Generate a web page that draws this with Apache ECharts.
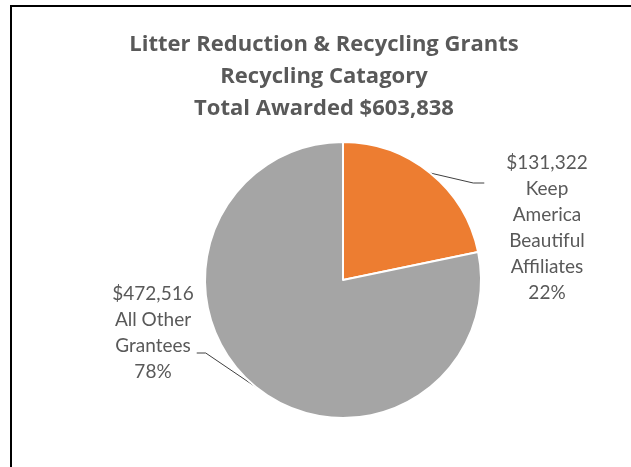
<!DOCTYPE html>
<html>
<head>
<meta charset="utf-8">
<script src="https://cdn.jsdelivr.net/npm/echarts@6/dist/echarts.min.js"></script>
<style>
  html, body { margin: 0; padding: 0; background: #fff; }
  #chart { width: 631px; height: 467px; position: absolute; left: 0; top: 0; }
  #frame { position: absolute; left: 10px; top: 5px; width: 640px; height: 480px;
           border-top: 2px solid #000; border-left: 2px solid #000; pointer-events: none; }
</style>
</head>
<body>
<div id="chart"></div>
<div id="frame"></div>
<script>
// ---- data ----
const titleLines = ['Litter Reduction & Recycling Grants', 'Recycling Catagory', 'Total Awarded $603,838'];
const categories = ['Keep\nAmerica\nBeautiful\nAffiliates', 'All Other\nGrantees'];
const values = [131322, 472516];
const colors = ['#ED7D31', '#A5A5A5'];

const chart = echarts.init(document.getElementById('chart'), null, { renderer: 'canvas' });

const FONT = 'Lato, "Open Sans", sans-serif';
const TITLE_FONT = '"Open Sans", Lato, sans-serif';
const labelPos = [
  { x: 547, y: 228, side: 'right' },
  { x: 153, y: 333, side: 'left' }
];

chart.setOption({
  backgroundColor: '#ffffff',
  animation: false,
  title: {
    text: titleLines.join('\n'),
    left: 324,
    top: 29,
    padding: 0,
    textAlign: 'center',
    textStyle: {
      fontFamily: TITLE_FONT,
      fontSize: 22,
      fontWeight: 'bold',
      color: '#595959',
      lineHeight: 32
    }
  },
  series: [{
    type: 'pie',
    center: [343, 280],
    radius: 138,
    startAngle: 90,
    clockwise: true,
    avoidLabelOverlap: false,
    data: categories.map((c, i) => ({ name: c, value: values[i], itemStyle: { color: colors[i] } })),
    itemStyle: { borderColor: '#ffffff', borderWidth: 2 },
    label: {
      show: true,
      position: 'outside',
      fontFamily: FONT,
      fontSize: 19,
      lineHeight: 26,
      color: '#595959',
      align: 'center',
      formatter: p => '$' + p.value.toLocaleString('en-US') + '\n' + p.name + '\n' + Math.round(p.percent) + '%'
    },
    labelLine: {
      show: true,
      length: 15,
      length2: 10,
      lineStyle: { color: '#404040', width: 1 }
    },
    labelLayout: function (p) {
      const pos = labelPos[p.dataIndex];
      const w = p.labelRect.width, h = p.labelRect.height;
      const left = pos.x - w / 2, top = pos.y - h / 2, right = pos.x + w / 2;
      const start = p.labelLinePoints ? p.labelLinePoints[0] : null;
      let pts;
      if (pos.side === 'right') {
        pts = [start, [left - 33, top + 33], [left - 22, top + 33]];
      } else {
        pts = [start, [right + 12, top + 72], [right + 3, top + 72]];
      }
      return {
        x: pos.x, y: pos.y, align: 'center', verticalAlign: 'middle',
        labelLinePoints: pts
      };
    }
  }]
});
</script>
</body>
</html>
